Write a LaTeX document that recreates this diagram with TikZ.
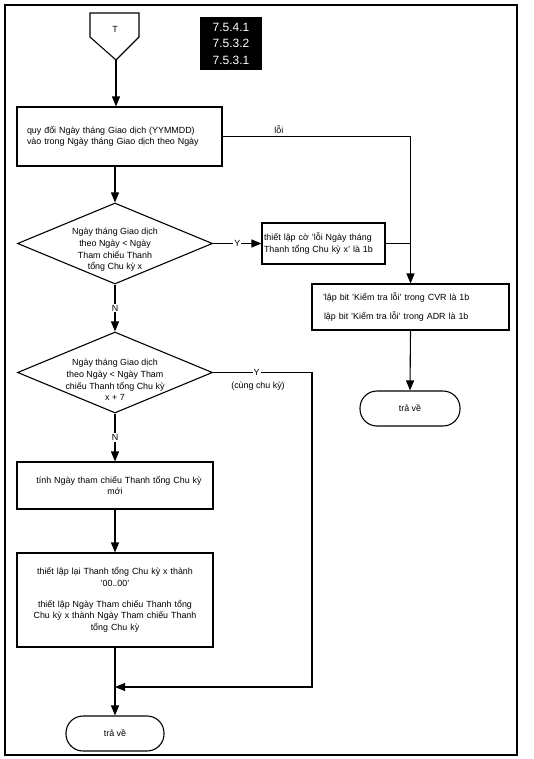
\documentclass[tikz,border=0pt]{standalone}
\usepackage{fontspec}
\setmainfont{Liberation Sans}
\usetikzlibrary{arrows.meta,shapes.geometric}
\begin{document}
\begin{tikzpicture}[x=1pt,y=-1pt,
  line width=1.1pt,
  arr/.style={-{Triangle[length=10pt,width=8pt]}},
  txt/.style={font=\fontsize{8.9}{11.6}\selectfont},
  boxn/.style={draw, rectangle, txt, inner ysep=0pt},
  dia/.style={draw, diamond, inner sep=0pt, minimum width=195pt, minimum height=81pt},
  term/.style={draw, rounded corners=17pt, txt, inner sep=0pt, minimum height=35pt},
  lbl/.style={txt, inner sep=1pt, fill=white},
]
\useasboundingbox (0,0) rectangle (533,759);
\draw[line width=1.5pt] (5,5) rectangle (517,755);

% off-page connector T
\draw (90,13) -- (139,13) -- (139,37) -- (116,60) -- (90,37) -- cycle;
\node[txt] (T) at (115,29) {T};
\coordinate (Tp) at (116,60);

% reference numbers
\node[fill=black, text=white, minimum width=62pt, minimum height=53pt, align=center,
      inner sep=0pt, font=\fontsize{12}{16.5}\selectfont] (ref) at (231,43.5)
      {7.5.4.1\\7.5.3.2\\7.5.3.1};

% boxes
\node[boxn, minimum width=205pt, minimum height=59pt, text width=185pt, inner xsep=10pt, align=left]
  (b1) at (119.5,136.5) {quy đổi Ngày tháng Giao dịch (YYMMDD)\\vào trong Ngày tháng Giao dịch theo Ngày};

\node[dia] (d1) at (115,243.5) {};
\node[txt, align=center] (d1t) at (115,250) {Ngày tháng Giao dịch\\theo Ngày < Ngày\\Tham chiếu Thanh\\tổng Chu kỳ x};

\node[boxn, minimum width=123pt, minimum height=41pt, text width=119pt, inner xsep=2pt, align=left]
  (b2) at (323.5,243.5) {thiết lập cờ 'lỗi Ngày tháng\\Thanh tổng Chu kỳ x' là 1b};

\node[boxn, minimum width=197pt, minimum height=46pt, text width=175pt, inner xsep=11pt, align=left]
  (b3) at (410.5,307) {'lập bit 'Kiểm tra lỗi' trong CVR là 1b\\[7pt]\hspace*{1pt}lập bit 'Kiểm tra lỗi' trong ADR là 1b};

\node[term, minimum width=100pt] (t1) at (410,408.5) {trả về};

\node[dia] (d2) at (115,372.5) {};
\node[txt, align=center] (d2t) at (115,380) {Ngày tháng Giao dịch\\theo Ngày < Ngày Tham\\chiếu Thanh tổng Chu kỳ\\x + 7};

\node[boxn, minimum width=196pt, minimum height=47pt, text width=184pt, inner xsep=6pt, align=center]
  (b4) at (115,485.5) {\hspace*{8pt}tính Ngày tham chiếu Thanh tổng Chu kỳ\\mới};

\node[boxn, minimum width=196pt, minimum height=94pt, text width=184pt, inner xsep=6pt, align=center]
  (b5) at (115,600) {thiết lập lại Thanh tổng Chu kỳ x thành\\'00..00'\\[9pt]thiết lập Ngày Tham chiếu Thanh tổng\\Chu kỳ x thành Ngày Tham chiếu Thanh\\tổng Chu kỳ};

\node[term, minimum width=98pt] (t2) at (115,733.5) {trả về};

% connectors
\draw[arr] (Tp) -- (Tp |- b1.north);
\draw[arr] (d1.north |- b1.south) -- (d1.north);
\draw[arr] (b1.east) -- node[lbl, pos=0.3, above=1pt, fill=none] (err) {lỗi} (b1.east -| b3.north) -- (b3.north);
\draw[arr] (d1.east) -- node[lbl] (y1) {Y} (b2.west);
\draw (b2.east) -- (b2.east -| b3.north);
\draw[arr] (b3.south) -- (t1.north);
\draw[arr] (d1.south) -- node[lbl] (n1) {N} (d2.north);
\draw[arr] (d2.south) -- node[lbl] (n2) {N} (b4.north);
\draw[arr] (b4.south) -- (b5.north);
\draw[arr] (b5.south) -- (t2.north);
\coordinate (j1) at (312,372.5);
\coordinate (j2) at (312,687);
\coordinate (j3) at (115,687);
\draw[arr] (d2.east) -- node[lbl, pos=0.44] (y2) {Y} (j1) -- (j2) -- (j3);
\node[txt] (same) at (258,386) {(cùng chu kỳ)};
\end{tikzpicture}
\end{document}
